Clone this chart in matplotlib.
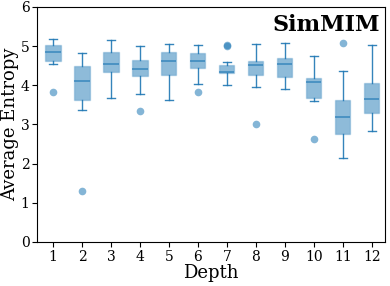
import matplotlib
matplotlib.use("Agg")
import matplotlib.pyplot as plt

depths = [str(i) for i in range(1, 13)]
whislo = [4.55, 3.37, 3.68, 3.78, 3.62, 4.03, 4.00, 3.95, 3.90, 3.60, 2.14, 2.82]
q1     = [4.63, 3.63, 4.33, 4.23, 4.26, 4.43, 4.30, 4.26, 4.20, 3.68, 2.75, 3.30]
med    = [4.86, 4.11, 4.53, 4.42, 4.62, 4.62, 4.33, 4.52, 4.54, 4.08, 3.18, 3.66]
q3     = [5.03, 4.49, 4.85, 4.65, 4.85, 4.83, 4.52, 4.62, 4.69, 4.18, 3.63, 4.05]
whishi = [5.19, 4.82, 5.15, 5.00, 5.05, 5.02, 4.60, 5.05, 5.09, 4.75, 4.37, 5.02]
fliers = [[3.82], [1.30], [], [3.35], [], [3.82], [5.00, 5.02], [3.02], [], [2.64], [5.08], []]

plt.rcParams['font.family'] = ['DejaVu Serif']

fig = plt.figure(figsize=(3.9, 2.86), dpi=100)
ax = fig.add_axes([0.095, 0.154, 0.892, 0.822])

stats = []
for i in range(12):
    stats.append(dict(label=depths[i], whislo=whislo[i], q1=q1[i], med=med[i],
                      q3=q3[i], whishi=whishi[i], fliers=fliers[i]))

blue = '#1f77b4'
ax.bxp(stats, positions=range(1, 13), widths=0.52, capwidths=0.26,
       patch_artist=True, showfliers=True,
       boxprops=dict(facecolor=(0.12, 0.47, 0.71, 0.5), edgecolor=(0.12, 0.47, 0.71, 0.25), linewidth=1.0),
       medianprops=dict(color=blue, linewidth=1.2, alpha=0.7),
       whiskerprops=dict(color=blue, linewidth=1.0, alpha=0.9),
       capprops=dict(color=blue, linewidth=1.0, alpha=0.9),
       flierprops=dict(marker='o', markerfacecolor=(0.12, 0.47, 0.71, 0.55),
                       markeredgecolor='none', markersize=5.5))

ax.set_ylim(0, 6)
ax.set_xlim(0.45, 12.45)
ax.set_yticks(range(0, 7))
ax.tick_params(labelsize=10, pad=2)
ax.set_xlabel('Depth', fontsize=13, labelpad=0)
ax.set_ylabel('Average Entropy', fontsize=13, labelpad=1)
ax.text(0.985, 0.97, 'SimMIM', transform=ax.transAxes, ha='right', va='top',
        fontsize=16, fontweight='bold')

fig.savefig('out.png', dpi=100)
